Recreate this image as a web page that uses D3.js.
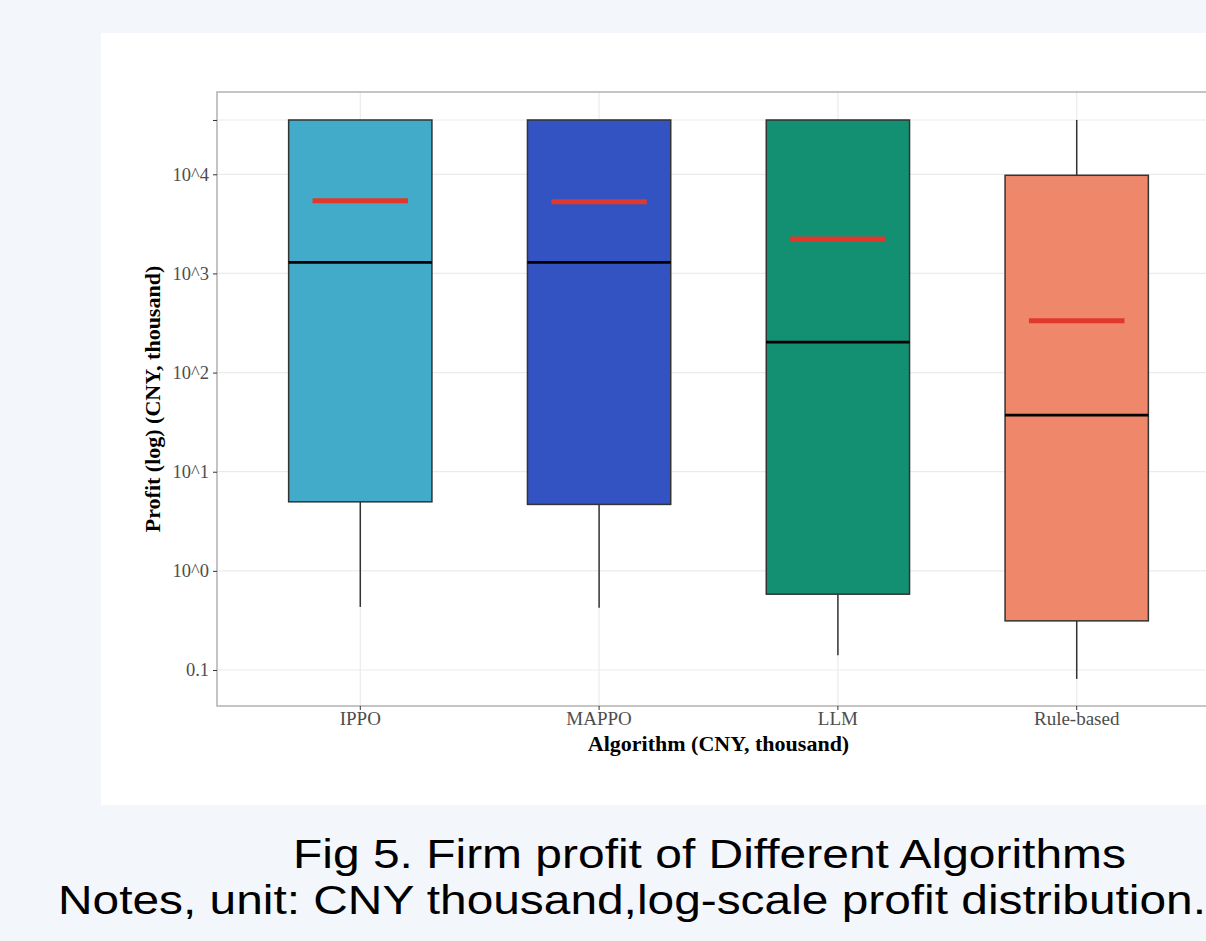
<!DOCTYPE html>
<html>
<head>
<meta charset="utf-8">
<script src="https://cdn.jsdelivr.net/npm/d3@7"></script>
<style>
  body { margin: 0; background: #f3f6fb; }
  svg { display: block; }
</style>
</head>
<body>
<svg id="chart" width="1206" height="941"></svg>
<script>
// box stats (CNY thousand)
const algorithms = ["IPPO", "MAPPO", "LLM", "Rule-based"];
const colors = ["#41abc9", "#3453c2", "#138f72", "#ef876b"];
const lowWhisker = [0.433, 0.424, 0.141, 0.0813];
const q1 = [4.97, 4.68, 0.582, 0.313];
const median = [1294, 1294, 203, 37.2];
const q3 = [35300, 35300, 35300, 9770];
const highWhisker = [35300, 35300, 35300, 35300];
const mean = [5420, 5300, 2224, 333];

const yTicks = [0.1, 1, 10, 100, 1000, 10000, 35300];
const yLabels = ["0.1", "10^0", "10^1", "10^2", "10^3", "10^4", ""];

const svg = d3.select("#chart");

svg.append("rect")
    .attr("x", 101).attr("y", 33)
    .attr("width", 1105).attr("height", 772)
    .attr("fill", "#fff");

const pLeft = 217, pTop = 92, pBottom = 706, pRight = 1220;

const x = d3.scaleBand()
    .domain(algorithms)
    .range([pLeft, pRight])
    .paddingOuter(0.1)
    .paddingInner(0);
// ggplot discrete axis: 0.6 units expansion each side
const step = (pRight - pLeft) / 4.2;
const cx = (d, i) => pLeft + step * (0.6 + i);

const y = d3.scaleLog()
    .domain([Math.pow(10, -1.363), Math.pow(10, 4.83)])
    .range([pBottom, pTop]);

const g = svg.append("g");

// grid
g.selectAll(".hgrid").data(yTicks).enter().append("line")
    .attr("x1", pLeft).attr("x2", pRight)
    .attr("y1", d => y(d)).attr("y2", d => y(d))
    .attr("stroke", "#ebebeb").attr("stroke-width", 1.2);

g.selectAll(".vgrid").data(algorithms).enter().append("line")
    .attr("x1", cx).attr("x2", cx)
    .attr("y1", pTop).attr("y2", pBottom)
    .attr("stroke", "#ebebeb").attr("stroke-width", 1.2);

const boxes = algorithms.map((a, i) => ({
    name: a, color: colors[i], lo: lowWhisker[i], q1: q1[i],
    med: median[i], q3: q3[i], hi: highWhisker[i], mean: mean[i], i: i
}));

const bw = step * 0.6, mw = step * 0.4;

const box = g.selectAll(".box").data(boxes).enter().append("g");

box.append("line")
    .attr("x1", d => cx(d, d.i)).attr("x2", d => cx(d, d.i))
    .attr("y1", d => y(d.lo)).attr("y2", d => y(d.q1))
    .attr("stroke", "#333").attr("stroke-width", 1.5);
box.append("line")
    .attr("x1", d => cx(d, d.i)).attr("x2", d => cx(d, d.i))
    .attr("y1", d => y(d.q3)).attr("y2", d => y(d.hi))
    .attr("stroke", "#333").attr("stroke-width", 1.5);

box.append("rect")
    .attr("x", d => cx(d, d.i) - bw / 2)
    .attr("width", bw)
    .attr("y", d => y(d.q3))
    .attr("height", d => y(d.q1) - y(d.q3))
    .attr("fill", d => d.color)
    .attr("stroke", "#333").attr("stroke-width", 1.5);

box.append("line")
    .attr("x1", d => cx(d, d.i) - bw / 2).attr("x2", d => cx(d, d.i) + bw / 2)
    .attr("y1", d => y(d.med)).attr("y2", d => y(d.med))
    .attr("stroke", "#000").attr("stroke-width", 2.6);

box.append("line")
    .attr("x1", d => cx(d, d.i) - mw / 2).attr("x2", d => cx(d, d.i) + mw / 2)
    .attr("y1", d => y(d.mean)).attr("y2", d => y(d.mean))
    .attr("stroke", "#e0392b").attr("stroke-width", 5);

// panel border
g.append("rect")
    .attr("x", pLeft).attr("y", pTop)
    .attr("width", pRight - pLeft).attr("height", pBottom - pTop)
    .attr("fill", "none").attr("stroke", "#a6a6a6").attr("stroke-width", 1.3);

// axes
const yAxis = g.append("g")
    .attr("transform", `translate(${pLeft},0)`)
    .call(d3.axisLeft(y).tickValues(yTicks).tickFormat((d, i) => yLabels[i]).tickSize(4).tickPadding(4));
yAxis.select(".domain").remove();
yAxis.selectAll("line").attr("stroke", "#333");
yAxis.selectAll("text")
    .attr("font-family", "Liberation Serif").attr("font-size", 18.5).attr("fill", "#4d4d4d");

const xAxis = g.append("g")
    .attr("transform", `translate(0,${pBottom})`)
    .call(d3.axisBottom(x).tickSize(4).tickPadding(2));
xAxis.select(".domain").remove();
xAxis.selectAll(".tick").attr("transform", (d, i) => `translate(${cx(d, i)},0)`);
xAxis.selectAll("line").attr("stroke", "#333");
xAxis.selectAll("text")
    .attr("font-family", "Liberation Serif").attr("font-size", 19).attr("fill", "#4d4d4d");

svg.append("text")
    .attr("x", (pLeft + pRight) / 2).attr("y", 751)
    .attr("text-anchor", "middle")
    .attr("font-family", "Liberation Serif").attr("font-weight", "bold").attr("font-size", 22)
    .text("Algorithm (CNY, thousand)");

svg.append("text")
    .attr("transform", `translate(160,${(pTop + pBottom) / 2}) rotate(-90)`)
    .attr("text-anchor", "middle")
    .attr("font-family", "Liberation Serif").attr("font-weight", "bold").attr("font-size", 22)
    .text("Profit (log) (CNY, thousand)");

// caption
svg.append("text")
    .attr("x", 709.5).attr("y", 868)
    .attr("text-anchor", "middle")
    .attr("font-family", "Liberation Sans").attr("font-size", 41)
    .attr("textLength", 833).attr("lengthAdjust", "spacingAndGlyphs")
    .text("Fig 5. Firm profit of Different Algorithms");
svg.append("text")
    .attr("x", 632).attr("y", 914)
    .attr("text-anchor", "middle")
    .attr("font-family", "Liberation Sans").attr("font-size", 41)
    .attr("textLength", 1148).attr("lengthAdjust", "spacingAndGlyphs")
    .text("Notes, unit: CNY thousand,log-scale profit distribution.");
</script>
</body>
</html>
